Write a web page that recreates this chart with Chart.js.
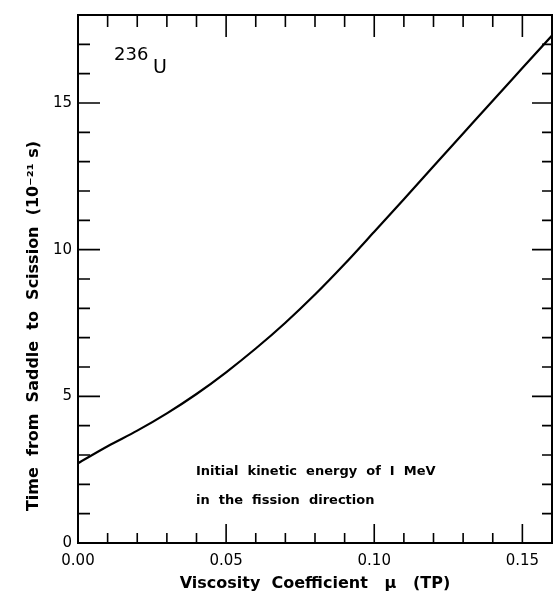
<!DOCTYPE html>
<html>
<head>
<meta charset="utf-8">
<script src="https://cdn.jsdelivr.net/npm/chart.js@4/dist/chart.umd.min.js"></script>
<style>
  html, body { margin: 0; padding: 0; background: #fff; }
  #wrap { width: 554px; height: 595px; }
</style>
</head>
<body>
<div id="wrap"><canvas id="fissionChart"></canvas></div>
<script>
// viscosity coefficient mu (TP) and saddle-to-scission time (1e-21 s)
const viscosity = [0, 0.01, 0.02, 0.03, 0.04, 0.05, 0.06, 0.07, 0.08, 0.09, 0.10, 0.11, 0.12, 0.13, 0.14, 0.15, 0.16];
const scissionTime = [2.72, 3.30, 3.83, 4.42, 5.08, 5.82, 6.63, 7.51, 8.47, 9.51, 10.61, 11.72, 12.84, 13.96, 15.08, 16.19, 17.3];

const xTickLabels = [0, 0.05, 0.10, 0.15];
const yTickLabels = [0, 5, 10, 15];
const xMinorStep = 0.01;
const yMinorStep = 1;

const fontFamily = '"DejaVu Sans", sans-serif';

// ticks point inward on all four sides, plus the frame and the text labels
const framePlugin = {
  id: 'frame',
  afterDraw(chart) {
    const ctx = chart.ctx;
    const area = chart.chartArea;
    const xs = chart.scales.x;
    const ys = chart.scales.y;
    ctx.save();
    ctx.strokeStyle = '#000';
    ctx.lineWidth = 2;
    ctx.strokeRect(area.left, area.top, area.right - area.left, area.bottom - area.top);

    ctx.lineWidth = 1.6;
    ctx.beginPath();
    for (let i = 1; i * xMinorStep < xs.max - 1e-9; i++) {
      const v = i * xMinorStep;
      const major = Math.abs(v / 0.05 - Math.round(v / 0.05)) < 1e-6;
      const px = xs.getPixelForValue(v);
      const bl = major ? 19 : 10;
      const tl = major ? 22 : 12;
      ctx.moveTo(px, area.bottom);
      ctx.lineTo(px, area.bottom - bl);
      ctx.moveTo(px, area.top);
      ctx.lineTo(px, area.top + tl);
    }
    for (let v = yMinorStep; v < ys.max - 1e-9; v += yMinorStep) {
      const major = v % 5 === 0;
      const py = ys.getPixelForValue(v);
      const ll = major ? 22 : 12;
      const rl = major ? 20 : 10;
      ctx.moveTo(area.left, py);
      ctx.lineTo(area.left + ll, py);
      ctx.moveTo(area.right, py);
      ctx.lineTo(area.right - rl, py);
    }
    ctx.stroke();

    ctx.fillStyle = '#000';
    // y axis title
    ctx.save();
    ctx.translate(34, 326);
    ctx.rotate(-Math.PI / 2);
    ctx.font = 'bold 16px ' + fontFamily;
    ctx.textAlign = 'center';
    ctx.textBaseline = 'middle';
    ctx.fillText('Time  from  Saddle  to  Scission  (10\u207B\u00B2\u00B9 s)', 0, 0);
    ctx.restore();

    // nucleus label
    ctx.font = '18px ' + fontFamily;
    ctx.textAlign = 'left';
    ctx.textBaseline = 'alphabetic';
    ctx.fillText('236', area.left + 36, area.top + 45);
    ctx.font = '19px ' + fontFamily;
    ctx.fillText('U', area.left + 75, area.top + 58);

    // note
    ctx.font = 'bold 13px ' + fontFamily;
    ctx.fillText('Initial  kinetic  energy  of  I  MeV', area.left + 118, area.top + 460);
    ctx.fillText('in  the  fission  direction', area.left + 118, area.top + 489);
    ctx.restore();
  }
};

new Chart(document.getElementById('fissionChart'), {
  type: 'line',
  data: {
    datasets: [{
      data: viscosity.map((v, i) => ({ x: v, y: scissionTime[i] })),
      borderColor: '#000',
      borderWidth: 2.2,
      pointRadius: 0,
      cubicInterpolationMode: 'monotone',
      fill: false
    }]
  },
  options: {
    responsive: true,
    maintainAspectRatio: false,
    animation: false,
    layout: { padding: { left: 0, top: 12, right: 2, bottom: 0 } },
    plugins: {
      legend: { display: false },
      tooltip: { enabled: false }
    },
    scales: {
      x: {
        type: 'linear',
        min: 0,
        max: 0.16,
        grid: { display: false, drawTicks: false },
        border: { display: false },
        afterBuildTicks: scale => { scale.ticks = xTickLabels.map(v => ({ value: v })); },
        afterFit: scale => { scale.height = 52; },
        ticks: {
          padding: 9,
          color: '#000',
          font: { family: fontFamily, size: 15 },
          callback: v => v.toFixed(2)
        },
        title: {
          display: true,
          text: 'Viscosity  Coefficient   \u03BC   (TP)',
          color: '#000',
          font: { family: fontFamily, size: 16, weight: 'bold' },
          padding: { top: 0, bottom: 2 }
        }
      },
      y: {
        type: 'linear',
        min: 0,
        max: 18,
        grid: { display: false, drawTicks: false },
        border: { display: false },
        afterBuildTicks: scale => { scale.ticks = yTickLabels.map(v => ({ value: v })); },
        afterFit: scale => { scale.width = 78; },
        ticks: {
          padding: 6,
          color: '#000',
          font: { family: fontFamily, size: 15 }
        }
      }
    }
  },
  plugins: [framePlugin]
});
</script>
</body>
</html>
